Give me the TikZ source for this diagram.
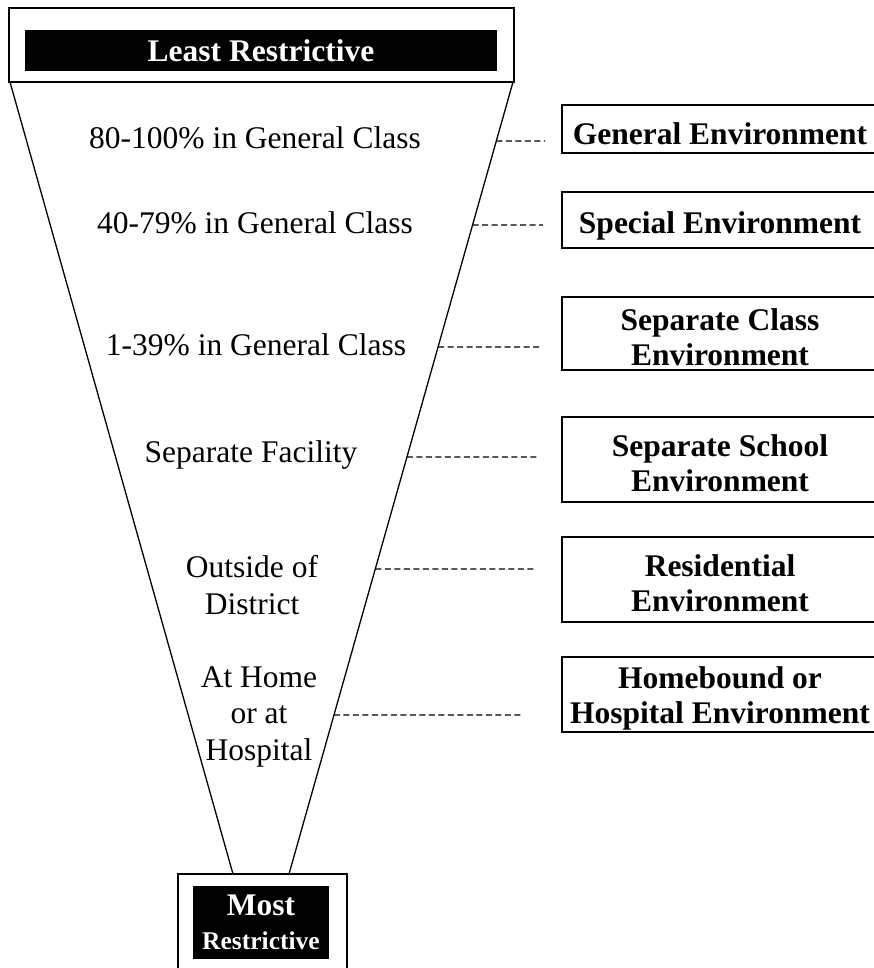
\documentclass[tikz,border=0pt]{standalone}
\usepackage{fontspec}
\setmainfont{Liberation Serif}
\usetikzlibrary{calc, positioning}

\begin{document}
\begin{tikzpicture}[x=1pt, y=-1pt,
    level/.style={align=center, inner sep=0pt, font=\fontsize{31.5}{36.5}\selectfont},
    envbox/.style={draw, line width=1.2pt, minimum width=316pt, inner sep=0pt},
    envtext/.style={align=center, inner sep=0pt, font=\fontsize{31.5}{35}\selectfont\bfseries},
    endbox/.style={draw, line width=1.3pt, inner sep=0pt},
    tag/.style={fill=black, text=white, align=center, inner sep=0pt, font=\fontsize{31.5}{34}\selectfont\bfseries},
    edge/.style={line width=1.3pt},
    link/.style={line width=1.2pt, dash pattern=on 6pt off 3.5pt}
]
\useasboundingbox (0,0) rectangle (873,968);

% Least restrictive (top)
\node[endbox, minimum width=505pt, minimum height=74pt] (top) at (261.5,45) {};
\node[tag, minimum width=472pt, minimum height=41pt] (least) at (261,50.5) {Least Restrictive};

% Most restrictive (bottom)
\node[endbox, minimum width=169pt, minimum height=100pt] (bottom) at (262.5,924) {};
\node[tag, minimum width=136pt, minimum height=73pt] (most) at (261,922.5) {Most\\{\fontsize{25.5}{30}\selectfont Restrictive}};

% Funnel
\coordinate (tl) at (10,82);
\coordinate (tr) at (513,82);
\coordinate (bl) at (233,874);
\coordinate (br) at (289,874);
\draw[edge] (tl) -- (bl);
\draw[edge] (tr) -- (br);

% Placements
\node[level] (p1) at (255,138) {80-100\% in General Class};
\node[level] (p2) at (255,223) {40-79\% in General Class};
\node[level] (p3) at (256,345) {1-39\% in General Class};
\node[level] (p4) at (251,455) {Separate Facility};
\node[level] (p5) at (252,585) {Outside of\\District};
\node[level] (p6) at (259,716.5) {At Home\\or at\\Hospital};

% Environments
\node[envbox, minimum height=48pt] (gen) at (720,129) {};
\node[envbox, minimum height=56pt] (spec) at (720,220) {};
\node[envbox, minimum height=73pt] (sclass) at (720,333.5) {};
\node[envbox, minimum height=85pt] (sschool) at (720,459.5) {};
\node[envbox, minimum height=85pt] (resid) at (720,579.5) {};
\node[envbox, minimum height=75pt] (home) at (720,694.5) {};
\node[envtext] (gent) at ($(gen)+(0,5)$) {General Environment};
\node[envtext] (spect) at ($(spec)+(0,6)$) {Special Environment};
\node[envtext] (sclasst) at ($(sclass)+(0,4)$) {Separate Class\\Environment};
\node[envtext] (sschoolt) at ($(sschool)+(0,4)$) {Separate School\\Environment};
\node[envtext] (residt) at ($(resid)+(0,4)$) {Residential\\Environment};
\node[envtext] (homet) at ($(home)+(0,4)$) {Homebound or\\Hospital Environment};

% Dashed links
\coordinate (s1) at ($(tr)!0.0745!(br)$);
\coordinate (s2) at ($(tr)!0.1806!(br)$);
\coordinate (s3) at ($(tr)!0.3346!(br)$);
\coordinate (s4) at ($(tr)!0.4735!(br)$);
\coordinate (s5) at ($(tr)!0.6149!(br)$);
\coordinate (s6) at ($(tr)!0.7992!(br)$);
\coordinate (e1) at (545,141);
\coordinate (e2) at (543,225);
\coordinate (e3) at (542,347);
\coordinate (e4) at (537,457);
\coordinate (e5) at (534,569);
\coordinate (e6) at (521,715);
\draw[link] (s1) -- (e1);
\draw[link] (s2) -- (e2);
\draw[link] (s3) -- (e3);
\draw[link] (s4) -- (e4);
\draw[link] (s5) -- (e5);
\draw[link] (s6) -- (e6);

\end{tikzpicture}
\end{document}
